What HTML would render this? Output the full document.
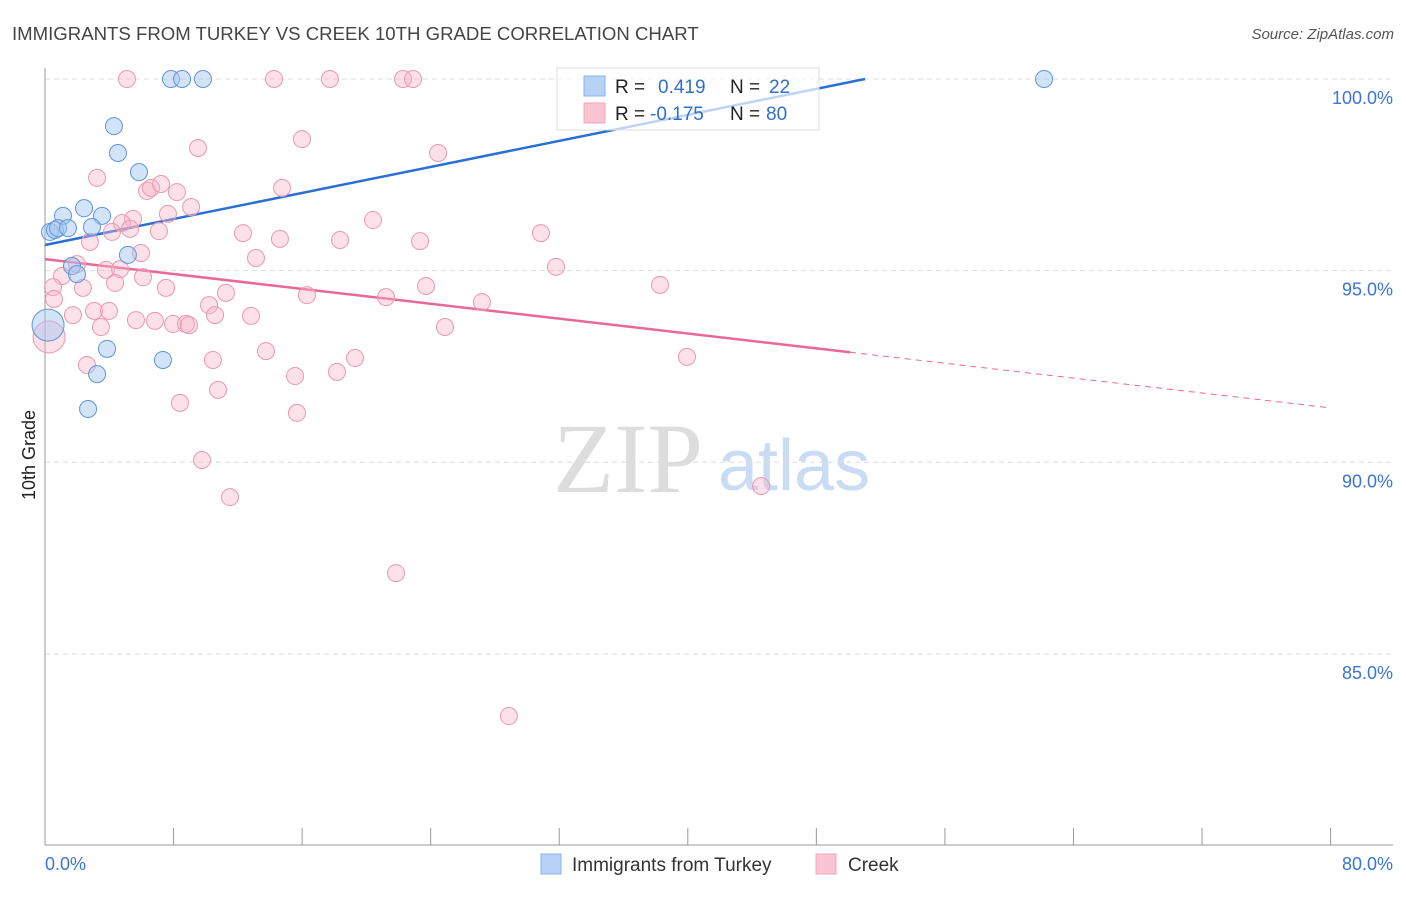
<!DOCTYPE html>
<html><head><meta charset="utf-8"><style>
body{margin:0;background:#fff;}
svg text{font-family:"Liberation Sans",sans-serif;}
</style></head><body>
<svg id="chart" width="1406" height="892">
<text x="12" y="40" font-size="18.6" fill="#444">IMMIGRANTS FROM TURKEY VS CREEK 10TH GRADE CORRELATION CHART</text>
<text x="1394" y="39" font-size="15" fill="#555" text-anchor="end" font-style="italic">Source: ZipAtlas.com</text>
<g>
<text x="553" y="492" font-size="100" fill="#ddd" style="font-family:'Liberation Serif',serif">ZIP</text>
<text x="718" y="490" font-size="72" fill="#c9dcf3">atlas</text>
</g>
<g id="grid"></g>
<g id="axes"></g>
<g id="lines"></g>
<g id="pts"></g>
<text transform="translate(35,455) rotate(-90)" font-size="18" fill="#222" text-anchor="middle">10th Grade</text>
<g>
<rect x="557" y="68" width="262" height="62" fill="#fff" fill-opacity="0.7" stroke="#ddd"/>
<rect x="584" y="76" width="21" height="20" fill="#b7d2f5" stroke="#8ab3e8"/>
<rect x="584" y="103" width="21" height="20" fill="#fac5d3" stroke="#f0a5bb"/>
<text x="615" y="93" font-size="19" fill="#222">R = </text><text x="658" y="93" font-size="19" fill="#2f6fd0">0.419</text>
<text x="730" y="93" font-size="19" fill="#222">N = </text><text x="769" y="93" font-size="19" fill="#2f6fd0">22</text>
<text x="615" y="120" font-size="19" fill="#222">R = </text><text x="650" y="120" font-size="19" fill="#2f6fd0">-0.175</text>
<text x="730" y="120" font-size="19" fill="#222">N = </text><text x="766" y="120" font-size="19" fill="#2f6fd0">80</text>
</g>
<g>
<rect x="541" y="854" width="20" height="20" fill="#b7d2f5" stroke="#8ab3e8"/>
<text x="572" y="871" font-size="19" fill="#333">Immigrants from Turkey</text>
<rect x="816" y="854" width="20" height="20" fill="#fac5d3" stroke="#f0a5bb"/>
<text x="848" y="871" font-size="19" fill="#333">Creek</text>
</g>
</svg>
<script>
const blueX=[0.31,0.62,1.12,0.81,1.43,2.43,3.55,2.92,1.68,1.99,5.16,4.29,4.54,5.85,3.86,3.24,2.68,7.34,7.84,8.53,9.83,62.17];
const blueY=[96.01,96.06,96.43,96.11,96.11,96.63,96.43,96.14,95.12,94.91,95.41,98.77,98.07,97.57,92.96,92.30,91.39,92.67,100,100,100,100];
const pinkX=[5.10,9.52,3.24,6.35,6.60,7.22,8.21,9.09,7.65,5.48,4.79,5.29,4.17,7.09,2.80,5.97,1.99,1.06,0.50,0.56,3.80,4.67,4.36,6.10,2.36,7.53,1.74,3.05,3.98,3.48,5.66,6.84,7.97,8.77,8.96,10.21,11.26,10.58,12.82,12.32,14.62,13.13,14.75,15.99,24.46,20.41,18.36,23.34,16.30,21.22,23.71,24.89,13.75,10.45,2.61,10.77,15.56,18.17,19.29,8.40,15.68,14.25,17.73,22.28,22.90,30.86,31.80,27.19,38.27,39.95,9.77,11.51,44.56,21.84,28.87];
const pinkY=[100,98.20,97.42,97.08,97.16,97.26,97.05,96.66,96.48,96.35,96.24,96.09,96.01,96.03,95.75,95.46,95.17,94.86,94.57,94.26,95.02,95.04,94.68,94.83,94.55,94.55,93.84,93.95,93.95,93.53,93.71,93.69,93.61,93.61,93.58,94.10,94.42,93.84,93.82,95.98,95.83,95.33,97.16,98.43,98.07,96.32,95.80,95.77,94.36,94.31,94.60,93.53,92.90,92.67,92.54,91.89,92.25,92.36,92.72,91.55,91.29,100,100,100,100,95.98,95.10,94.18,94.63,92.75,90.06,89.09,89.38,87.11,83.38];
const bigBlue=[0.19,93.58];
const bigPink=[0.25,93.27];
const yTicks=[100,95,90,85];
const yTickLabels=["100.0%","95.0%","90.0%","85.0%"];
const xTicks=[0,8,16,24,32,40,48,56,64,72,80];
const blueLine=[0,95.67,51.03,100];
const pinkLine=[0,95.30,50.1,80,91.42];

const NS="http://www.w3.org/2000/svg";
const X=v=>45+v*16.07;
const Y=v=>79+(100-v)*38.33;
function mk(parent,tag,attrs){const e=document.createElementNS(NS,tag);for(const k in attrs)e.setAttribute(k,attrs[k]);document.getElementById(parent).appendChild(e);return e;}
yTicks.forEach((t,i)=>{
  const g=mk('grid','line',{x1:45,x2:1393,y1:Y(t),y2:Y(t),stroke:'#ddd','stroke-dasharray':'5,4'});
  
  
  const l=mk('grid','text',{x:1393,y:Y(t)+25,'font-size':18,fill:'#3b74d6','text-anchor':'end'});
  l.textContent=yTickLabels[i];
  
  
});
let a=mk('axes','line',{x1:45,x2:45,y1:68,y2:845,stroke:'#999'});


a=mk('axes','line',{x1:45,x2:1393,y1:845,y2:845,stroke:'#999'});


xTicks.forEach(t=>{
  const e=mk('axes','line',{x1:X(t),x2:X(t),y1:828,y2:845,stroke:'#999'});
  
  
});
let t=mk('axes','text',{x:45,y:870,'font-size':18,fill:'#3b74d6'});t.textContent=xTicks[0].toFixed(1)+'%';


t=mk('axes','text',{x:1393,y:870,'font-size':18,fill:'#3b74d6','text-anchor':'end'});t.textContent=xTicks[xTicks.length-1].toFixed(1)+'%';



function dot(x,y,r,fill,stroke,name){
  const c=mk('pts','circle',{cx:X(x),cy:Y(y),r:r,fill:fill,stroke:stroke,'stroke-width':1});
  
  
}
pinkX.forEach((x,i)=>dot(x,pinkY[i],8.5,'rgba(248,180,200,0.4)','#eb98b2','creek-point'));
dot(bigPink[0],bigPink[1],16,'rgba(248,180,200,0.4)','#eb98b2','creek-point-large');
blueX.forEach((x,i)=>dot(x,blueY[i],8.5,'rgba(160,196,240,0.45)','#5f95dc','turkey-point'));
dot(bigBlue[0],bigBlue[1],16,'rgba(160,196,240,0.45)','#5f95dc','turkey-point-large');

let ln=mk('lines','line',{x1:X(blueLine[0]),y1:Y(blueLine[1]),x2:X(blueLine[2]),y2:Y(blueLine[3]),stroke:'#2a70d4','stroke-width':2.5});


const slope=(pinkLine[4]-pinkLine[1])/(pinkLine[3]-pinkLine[0]);
const pe=pinkLine[1]+slope*pinkLine[2];
ln=mk('lines','line',{x1:X(pinkLine[0]),y1:Y(pinkLine[1]),x2:X(pinkLine[2]),y2:Y(pe),stroke:'#e8689a','stroke-width':2.5});


ln=mk('lines','line',{x1:X(pinkLine[2]),y1:Y(pe),x2:X(pinkLine[3]),y2:Y(pinkLine[4]),stroke:'#e8689a','stroke-width':1,'stroke-dasharray':'6,5'});


</script>
</body></html>
